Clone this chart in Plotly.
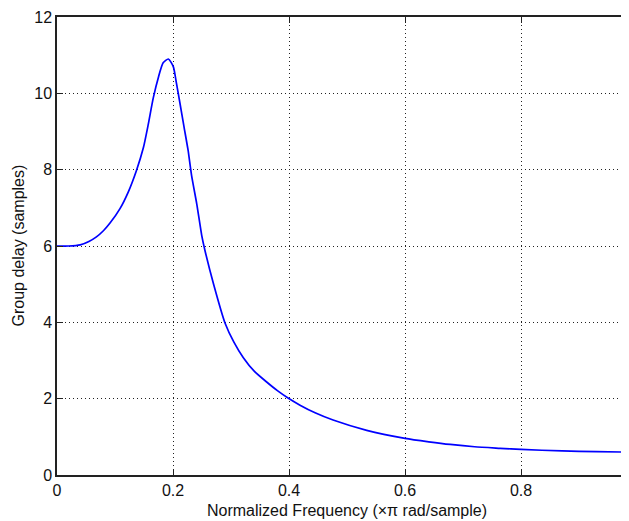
import plotly.graph_objects as go

# Normalized frequency (x pi rad/sample)
freq = [0.0, 0.02, 0.04, 0.055, 0.068, 0.08, 0.0914, 0.1086, 0.123, 0.137,
        0.149, 0.157, 0.166, 0.175, 0.183, 0.192, 0.2005, 0.206, 0.212, 0.219,
        0.226, 0.232, 0.241, 0.2495, 0.255, 0.270, 0.290, 0.305, 0.321, 0.340,
        0.362, 0.380, 0.399, 0.419, 0.445, 0.476, 0.534, 0.600, 0.641, 0.678,
        0.720, 0.764, 0.800, 0.871, 0.930, 0.986]
# Group delay (samples)
delay = [6.0, 6.0, 6.03, 6.12, 6.24, 6.40, 6.60, 6.98, 7.42, 7.98,
         8.58, 9.16, 9.88, 10.43, 10.80, 10.90, 10.70, 10.26, 9.74, 9.12,
         8.51, 7.85, 7.10, 6.28, 5.89, 5.00, 3.97, 3.48, 3.08, 2.72,
         2.43, 2.21, 2.01, 1.83, 1.63, 1.44, 1.17, 0.96, 0.87, 0.80,
         0.74, 0.70, 0.67, 0.63, 0.61, 0.60]

x_ticks = [0, 0.2, 0.4, 0.6, 0.8]
x_tick_labels = ["0", "0.2", "0.4", "0.6", "0.8"]
y_ticks = [0, 2, 4, 6, 8, 10, 12]
y_tick_labels = ["0", "2", "4", "6", "8", "10", "12"]

x_title = "Normalized Frequency (\u00d7\u03c0 rad/sample)"
y_title = "Group delay (samples)"

FONT = "Liberation Sans, Arial, sans-serif"

fig = go.Figure()
fig.add_trace(go.Scatter(x=freq, y=delay, mode="lines",
                         line=dict(color="#0000ff", width=1.7, shape="spline", smoothing=0.6),
                         hoverinfo="skip", showlegend=False))

axis_common = dict(
    showline=True, linecolor="#222222", linewidth=1.5,
    ticks="inside", ticklen=6, tickwidth=1.2, tickcolor="#222222",
    showgrid=True, gridcolor="#222222", gridwidth=1.3, griddash="1px,3px",
    zeroline=False, automargin=False,
    tickfont=dict(family=FONT, size=16, color="#111111"),
)

fig.update_xaxes(range=[0, 0.9862], tickvals=x_ticks, ticktext=x_tick_labels,
                 mirror="ticks", **axis_common)
fig.update_yaxes(range=[0, 12], tickvals=y_ticks, ticktext=y_tick_labels,
                 mirror=False, **axis_common)

fig.add_annotation(text=x_title, x=0.5, xref="x", y=0, yref="paper",
                   xanchor="center", yanchor="top", yshift=-25, showarrow=False,
                   font=dict(family=FONT, size=16, color="#111111"))
fig.add_annotation(text=y_title, x=0, xref="paper", y=0.5, yref="paper",
                   xanchor="right", yanchor="middle", xshift=-29, textangle=-90,
                   showarrow=False,
                   font=dict(family=FONT, size=16, color="#111111"))

# The page body has an 8px margin, so the figure is sized to fill the window
fig.update_layout(
    width=621, height=513,
    margin=dict(l=49, r=0, t=9, b=46, pad=0, autoexpand=False),
    paper_bgcolor="white", plot_bgcolor="white",
)

fig.write_html("out.html")
